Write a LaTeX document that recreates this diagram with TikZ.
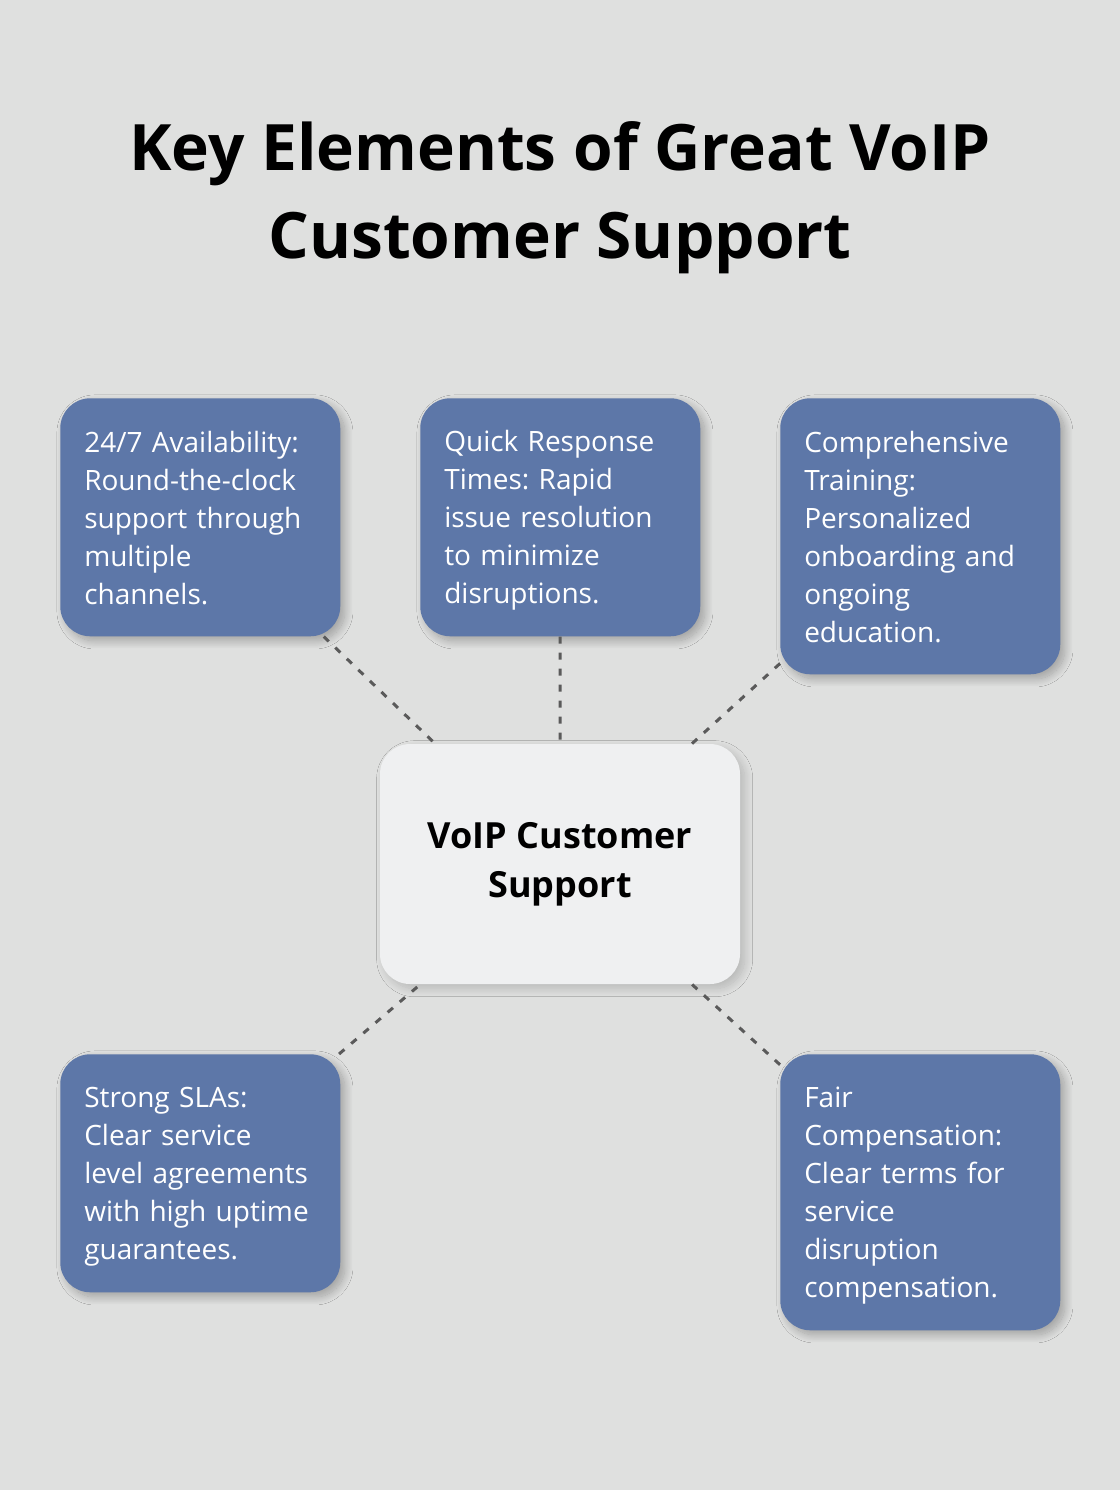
\documentclass[tikz,border=0pt]{standalone}
\usepackage{fontspec}
\setmainfont{Open Sans}
\frenchspacing
\usetikzlibrary{shadows.blur}
\definecolor{bgc}{HTML}{DFE0DF}
\definecolor{cardc}{HTML}{5D77A8}
\definecolor{hubc}{HTML}{EFF0F1}
\definecolor{linkc}{HTML}{5A5A5A}
\tikzset{
  softshadow/.style={blur shadow={shadow xshift=3.5pt, shadow yshift=-3.5pt, shadow blur radius=6pt, shadow blur extra rounding=4pt, shadow blur steps=16, shadow opacity=#1}},
  card/.style={fill=cardc, text=white, rounded corners=22.5pt, anchor=north west,
    minimum width=210pt, text width=174pt, align=left, inner xsep=18pt,
    font=\fontsize{21}{28.5}\selectfont, execute at begin node=\strut,
    execute at end node={\rule[-3.5pt]{0pt}{3.5pt}}, softshadow=28},
  link/.style={draw=linkc, line width=2.25pt, dash pattern=on 5.25pt off 6.75pt}
}
\begin{document}
\begin{tikzpicture}[x=0.75pt, y=0.75pt]
\fill[bgc] (0,0) rectangle (1120,-1490);
\useasboundingbox (0,0) rectangle (1120,-1490);
\node[align=center, font=\bfseries\fontsize{48}{66}\selectfont] (title) at (560,-198) {Key Elements of Great VoIP\\Customer Support};
\node[fill=hubc, rounded corners=22.5pt, minimum width=270pt, minimum height=180pt, align=center,
  font=\bfseries\fontsize{27}{37}\selectfont, execute at begin node={\rule{0pt}{35pt}},
  execute at end node={\rule[-6pt]{0pt}{6pt}}, softshadow=18] (hub) at (560,-864) {VoIP Customer\\Support};
\node[card, minimum height=178.5pt] (avail) at (60,-398) {24/7 Availability:\\Round-the-clock\\support through\\multiple\\channels.};
\node[card, minimum height=178.5pt] (quick) at (420,-398) {Quick Response\\Times: Rapid\\issue resolution\\to minimize\\disruptions.};
\node[card, minimum height=207pt] (train) at (780,-398) {Comprehensive\\Training:\\Personalized\\onboarding and\\ongoing\\education.};
\node[card, minimum height=178.5pt] (sla) at (60,-1054) {Strong SLAs:\\Clear service\\level agreements\\with high uptime\\guarantees.};
\node[card, minimum height=207pt] (comp) at (780,-1054) {Fair\\Compensation:\\Clear terms for\\service\\disruption\\compensation.};
\draw[link] (avail) -- (hub);
\draw[link] (quick) -- (hub);
\draw[link] (train) -- (hub);
\draw[link] (sla) -- (hub);
\draw[link] (comp) -- (hub);
\end{tikzpicture}
\end{document}
